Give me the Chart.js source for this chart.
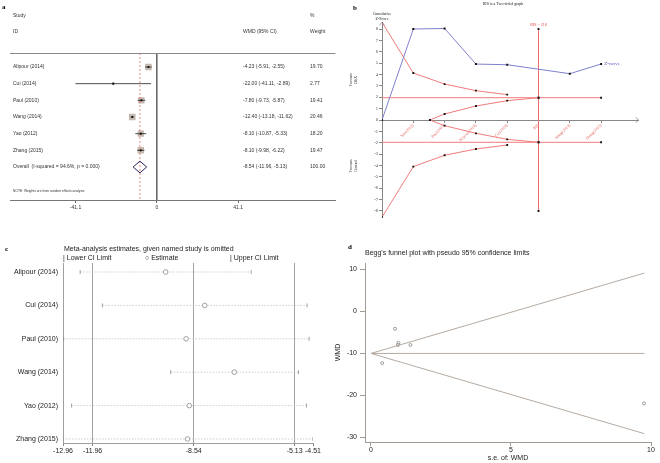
<!DOCTYPE html>
<html><head><meta charset="utf-8">
<script src="https://cdn.jsdelivr.net/npm/chart.js@4"></script>
<style>
html,body{margin:0;padding:0;background:#fff;}
#wrap{position:relative;width:660px;height:463px;overflow:hidden;background:#fff;}
canvas{position:absolute;}
</style></head><body>
<div id="wrap">
<canvas id="ca" width="340" height="235" style="left:0;top:0"></canvas>
<canvas id="cb" width="330" height="235" style="left:330px;top:0"></canvas>
<canvas id="cc" width="330" height="228" style="left:0;top:235px"></canvas>
<canvas id="cd" width="330" height="228" style="left:330px;top:235px"></canvas>
</div>
<script>
// ---------- DATA ----------
// Panel a: forest plot
const studies = ['Alipour (2014)','Cui (2014)','Paul (2010)','Wang (2014)','Yao (2012)','Zhang (2015)'];
const wmd     = [-4.23, -22.00, -7.80, -12.40, -8.10, -8.10];
const ciLow   = [-5.91, -41.11, -9.73, -13.18, -10.87, -9.98];
const ciHigh  = [-2.55, -2.89, -5.87, -11.62, -5.33, -6.22];
const weights = [19.70, 2.77, 19.41, 20.46, 18.20, 19.47];
const overallEst = -8.54, overallLow = -11.96, overallHigh = -5.13;
const overallLabel = 'Overall  (I-squared = 94.6%, p = 0.000)';
const forestTicks = [-41.1, 0, 41.1];

// Panel b: trial sequential analysis
const tsaLabels   = ['', 'Yao(2012)', 'Paul(2010)', 'Alipour(2014)', 'Cui(2014)', 'RIS', 'Wang(2014)', 'Zhang(2015)'];
const tsaXTicks   = [1, 2, 3, 4, 5, 6, 7];
const tsaYTicks   = [-8,-7,-6,-5,-4,-3,-2,-1,0,1,2,3,4,5,6,7,8];
const zInfo       = [0, 1, 2, 3, 4, 6, 7];
const zScore      = [0, 8.00, 8.05, 4.92, 4.86, 4.07, 4.92];
const boundInfo   = [0, 1, 2, 3, 4];
const upperBound  = [8.6, 4.13, 3.16, 2.58, 2.23];
const lowerBound  = [-8.55, -4.10, -3.10, -2.55, -2.20];
const futInfo     = [1.53, 2, 3, 4, 5];
const futUpper    = [0, 0.53, 1.23, 1.70, 1.96];
const futLower    = [0, -0.50, -1.17, -1.70, -1.96];
const convInfo    = [0, 5, 7];
const convZ       = 1.96;
const risInfo     = 5;
const risZ        = [-8, 8];
const risLabel    = 'RIS = 218';

// Panel c: leave-one-out
const looEst   = [-9.49, -8.17, -8.80, -7.17, -8.69, -8.75];
const looLow   = [-12.38, -11.63, -12.94, -9.32, -12.67, -12.96];
const looHigh  = [-6.60, -4.71, -4.64, -5.00, -4.73, -4.51];
const looTicks = [-12.96, -11.96, -8.54, -5.13, -4.51];
const looRefs  = [-11.96, -8.54, -5.13];

// Panel d: Begg's funnel
const beggSE       = [0.86, 9.75, 0.98, 0.40, 1.41, 0.96];
const beggWMD      = [-4.23, -22.00, -7.55, -12.40, -8.10, -8.10];
const funnelSE     = [0, 9.76];
const funnelUpper  = [-10.1, 9.03];
const funnelLower  = [-10.1, -29.2];
const funnelPooled = [-10.1, -10.1];
const beggXTicks   = [0, 5, 10];
const beggYTicks   = [-30, -20, -10, 0, 10];

// ---------- HELPERS ----------
const SANS = '"Liberation Sans", Arial, sans-serif';
const SERIF = '"Liberation Serif", "Times New Roman", serif';
Chart.defaults.font.family = SANS;
function txt(ctx, s, x, y, font, color, align, rot) {
  ctx.save();
  ctx.font = font; ctx.fillStyle = color; ctx.textAlign = align || 'left'; ctx.textBaseline = 'middle';
  ctx.translate(x, y);
  if (rot) ctx.rotate(rot);
  ctx.fillText(s, 0, 0);
  ctx.restore();
}
function seg(ctx, x1, y1, x2, y2, color, w) {
  ctx.save(); ctx.strokeStyle = color; ctx.lineWidth = w || 1;
  ctx.beginPath(); ctx.moveTo(x1, y1); ctx.lineTo(x2, y2); ctx.stroke(); ctx.restore();
}
const baseOpts = { responsive: false, animation: false, devicePixelRatio: 1,
  plugins: { legend: { display: false }, tooltip: { enabled: false } } };
function pts(xs, ys) { return xs.map((x, i) => ({ x: x, y: ys[i] })); }

// ---------- PANEL A ----------
(function () {
  const overallRow = studies.length;
  const yMin = -0.84, yMax = 7.98;
  const ds = [];
  ds.push({ data: studies.map((s, i) => ({ x: wmd[i], y: i })), pointStyle: 'rect',
    pointRadius: c => 4.6 * Math.sqrt(weights[c.dataIndex] / 20), pointBackgroundColor: '#c4b7ad',
    pointBorderWidth: 0, order: 5 });
  ds.push({ data: [{ x: overallEst, y: yMin }, { x: overallEst, y: yMax }], showLine: true, pointRadius: 0,
    borderColor: '#d86a6a', borderWidth: 0.8, borderDash: [2, 2], order: 4 });
  ds.push({ data: [{ x: 0, y: yMin }, { x: 0, y: yMax }], showLine: true, pointRadius: 0,
    borderColor: '#666', borderWidth: 0.9, order: 4 });
  studies.forEach((s, i) => ds.push({ data: [{ x: ciLow[i], y: i }, { x: ciHigh[i], y: i }], showLine: true,
    pointRadius: 0, borderColor: '#222', borderWidth: 0.8, order: 2 }));
  ds.push({ data: studies.map((s, i) => ({ x: wmd[i], y: i })), pointStyle: 'circle', pointRadius: 1.1,
    pointBackgroundColor: '#111', pointBorderWidth: 0, order: 1 });
  ds.push({ data: [{ x: overallLow, y: overallRow }, { x: overallEst, y: overallRow - 0.35 },
    { x: overallHigh, y: overallRow }, { x: overallEst, y: overallRow + 0.35 }, { x: overallLow, y: overallRow }],
    showLine: true, pointRadius: 0, borderColor: '#2c2456', borderWidth: 1, order: 1 });

  const textPlugin = { id: 'ftxt', afterDraw(chart) {
    const ctx = chart.ctx, ys = chart.scales.y, ca = chart.chartArea;
    const f = '5px ' + SANS, col = '#333';
    seg(ctx, ca.left, ca.top + 0.5, ca.right, ca.top + 0.5, '#888', 1);
    txt(ctx, 'a', 2, 7, 'bold 7px ' + SERIF, '#000');
    txt(ctx, 'Study', 13, 16, f, col); txt(ctx, 'ID', 13, 32, f, col);
    txt(ctx, 'WMD (95% CI)', 243, 32, f, col);
    txt(ctx, '%', 310, 16, f, col); txt(ctx, 'Weight', 310, 32, f, col);
    studies.forEach((s, i) => {
      const y = ys.getPixelForValue(i);
      txt(ctx, s, 13, y, f, col);
      txt(ctx, wmd[i].toFixed(2) + ' (' + ciLow[i].toFixed(2) + ', ' + ciHigh[i].toFixed(2) + ')', 243, y, f, col);
      txt(ctx, weights[i].toFixed(2), 310, y, f, col);
    });
    const yo = ys.getPixelForValue(overallRow);
    txt(ctx, overallLabel, 13, yo, f, col);
    txt(ctx, overallEst.toFixed(2) + ' (' + overallLow.toFixed(2) + ', ' + overallHigh.toFixed(2) + ')', 243, yo, f, col);
    txt(ctx, '100.00', 310, yo, f, col);
    txt(ctx, 'NOTE: Weights are from random effects analysis', 13, 191, '3.3px ' + SANS, col);
  } };

  new Chart(document.getElementById('ca'), {
    type: 'scatter', data: { datasets: ds },
    options: Object.assign({}, baseOpts, {
      layout: { padding: { left: 10, right: 2, top: 53, bottom: 0 } },
      scales: {
        x: { type: 'linear', min: -74.18, max: 90.22,
          afterBuildTicks: s => { s.ticks = forestTicks.map(v => ({ value: v })); },
          afterFit: s => { s.height = 35; },
          grid: { drawOnChartArea: false, drawTicks: true, tickLength: 3, color: '#666' },
          border: { display: true, color: '#777', width: 1 },
          ticks: { font: { size: 5, family: SANS }, color: '#333', padding: 2, maxRotation: 0, autoSkip: false,
            callback: v => String(v) } },
        y: { type: 'linear', display: false, min: yMin, max: yMax, reverse: true }
      }
    }),
    plugins: [textPlugin]
  });
})();

// ---------- PANEL B ----------
(function () {
  const red = '#f07c7c', blue = '#8080cf', mk = '#111';
  const ds = [
    { data: pts(zInfo, zScore), showLine: true, borderColor: blue, borderWidth: 1,
      pointStyle: 'rect', pointRadius: 1.4, pointBackgroundColor: mk, pointBorderWidth: 0 },
    { data: pts(boundInfo, upperBound), showLine: true, borderColor: red, borderWidth: 1,
      pointStyle: 'rect', pointRadius: 1.3, pointBackgroundColor: mk, pointBorderWidth: 0 },
    { data: pts(boundInfo, lowerBound), showLine: true, borderColor: red, borderWidth: 1,
      pointStyle: 'rect', pointRadius: 1.3, pointBackgroundColor: mk, pointBorderWidth: 0 },
    { data: pts(futInfo, futUpper), showLine: true, borderColor: red, borderWidth: 1,
      pointStyle: 'rect', pointRadius: 1.3, pointBackgroundColor: mk, pointBorderWidth: 0 },
    { data: pts(futInfo, futLower), showLine: true, borderColor: red, borderWidth: 1,
      pointStyle: 'rect', pointRadius: 1.3, pointBackgroundColor: mk, pointBorderWidth: 0 },
    { data: convInfo.map(x => ({ x: x, y: convZ })), showLine: true, borderColor: red, borderWidth: 1,
      pointStyle: 'rect', pointRadius: [0, 1.3, 1.3], pointBackgroundColor: mk, pointBorderWidth: 0 },
    { data: convInfo.map(x => ({ x: x, y: -convZ })), showLine: true, borderColor: red, borderWidth: 1,
      pointStyle: 'rect', pointRadius: [0, 1.3, 1.3], pointBackgroundColor: mk, pointBorderWidth: 0 },
    { data: risZ.map(z => ({ x: risInfo, y: z })), showLine: true, borderColor: '#f06a6a', borderWidth: 1,
      pointStyle: 'rect', pointRadius: 1.3, pointBackgroundColor: mk, pointBorderWidth: 0 }
  ];
  const textPlugin = { id: 'btxt', afterDraw(chart) {
    const ctx = chart.ctx, xs = chart.scales.x, ys = chart.scales.y, ca = chart.chartArea;
    const x0 = xs.getPixelForValue(0), y0 = ys.getPixelForValue(0);
    ctx.save(); ctx.strokeStyle = '#888'; ctx.lineWidth = 0.8;
    ctx.beginPath(); ctx.moveTo(ca.right - 3, y0 - 2.5); ctx.lineTo(ca.right, y0); ctx.lineTo(ca.right - 3, y0 + 2.5); ctx.stroke();
    ctx.beginPath(); ctx.moveTo(x0 - 2.5, ca.top + 3); ctx.lineTo(x0, ca.top); ctx.lineTo(x0 + 2.5, ca.top + 3); ctx.stroke();
    ctx.restore();
    txt(ctx, 'b', 23, 8, 'bold 7px ' + SERIF, '#000');
    txt(ctx, 'RIS is a Two-sided graph', 173, 4, '4px ' + SERIF, '#222', 'center');
    txt(ctx, 'Cumulative', 52, 14, '4px ' + SERIF, '#222', 'center');
    txt(ctx, 'Z-Score', 52, 19, '4px ' + SERIF, '#222', 'center');
    txt(ctx, 'Favours', 21, 80, '4px ' + SERIF, '#222', 'center', -Math.PI / 2);
    txt(ctx, 'DEX', 25.5, 80, '4px ' + SERIF, '#222', 'center', -Math.PI / 2);
    txt(ctx, 'Favours', 21, 166, '4px ' + SERIF, '#222', 'center', -Math.PI / 2);
    txt(ctx, 'Control', 25.5, 166, '4px ' + SERIF, '#222', 'center', -Math.PI / 2);
    txt(ctx, risLabel, xs.getPixelForValue(risInfo), ys.getPixelForValue(risZ[1]) - 4, '4px ' + SERIF, '#e04848', 'center');
    const last = zInfo.length - 1;
    txt(ctx, 'Z-curve', xs.getPixelForValue(zInfo[last]) + 3, ys.getPixelForValue(zScore[last]), '5px ' + SERIF, '#5a5ab8');
  } };
  new Chart(document.getElementById('cb'), {
    type: 'scatter', data: { datasets: ds },
    options: Object.assign({}, baseOpts, {
      layout: { padding: { left: 0, right: 21.3, top: 22.2, bottom: 17.2 } },
      scales: {
        x: { type: 'linear', min: 0, max: 8.2, position: { y: 0 },
          afterBuildTicks: s => { s.ticks = tsaXTicks.map(v => ({ value: v })); },
          grid: { drawOnChartArea: false, drawTicks: true, tickLength: 2, color: '#888' },
          border: { display: true, color: '#888', width: 1 },
          ticks: { font: { size: 4, family: SERIF }, color: '#e05a5a', padding: 1, autoSkip: false,
            minRotation: 45, maxRotation: 45, callback: v => tsaLabels[v] } },
        y: { type: 'linear', min: -8.6, max: 8.6,
          afterBuildTicks: s => { s.ticks = tsaYTicks.map(v => ({ value: v })); },
          afterFit: s => { s.width = 52; },
          grid: { drawOnChartArea: false, drawTicks: true, tickLength: 3, color: '#888' },
          border: { display: true, color: '#888', width: 1 },
          ticks: { font: { size: 4.5, family: SERIF }, color: '#444', padding: 1, autoSkip: false,
            callback: v => String(v) } }
      }
    }),
    plugins: [textPlugin]
  });
})();

// ---------- PANEL C ----------
(function () {
  const ds = studies.map((s, i) => ({
    data: [{ x: looLow[i], y: i }, { x: looEst[i], y: i }, { x: looHigh[i], y: i }],
    showLine: true, borderColor: '#c2c2c2', borderWidth: 0.8, borderDash: [1.5, 1.5],
    pointStyle: ['line', 'circle', 'line'], pointRotation: [90, 0, 90], pointRadius: [2, 2.3, 2],
    pointBorderColor: '#8a8a8a', pointBackgroundColor: '#fff', pointBorderWidth: 0.8 }));
  const textPlugin = { id: 'ctxt', afterDraw(chart) {
    const ctx = chart.ctx;
    const f = '7px ' + SANS;
    txt(ctx, 'c', 5, 14, 'bold 7px ' + SERIF, '#000');
    txt(ctx, 'Meta-analysis estimates, given named study is omitted', 64, 14, f, '#222');
    txt(ctx, '| Lower CI Limit', 63, 23, f, '#222');
    txt(ctx, '\u25CB Estimate', 145, 23, f, '#222');
    txt(ctx, '| Upper CI Limit', 230, 23, f, '#222');
  } };
  new Chart(document.getElementById('cc'), {
    type: 'scatter', data: { datasets: ds },
    options: Object.assign({}, baseOpts, {
      layout: { padding: { left: 0, right: 17, top: 28, bottom: 0 } },
      scales: {
        x: { type: 'linear', min: -12.96, max: -4.51,
          afterBuildTicks: s => { s.ticks = looTicks.map(v => ({ value: v })); },
          afterFit: s => { s.height = 20; },
          grid: { drawOnChartArea: true, drawTicks: true, tickLength: 3,
            color: c => (c.tick && looRefs.includes(c.tick.value)) ? '#a3a3a3' : 'rgba(0,0,0,0)',
            tickColor: '#888' },
          border: { display: true, color: '#a0a0a0', width: 1 },
          ticks: { font: { size: 7, family: SANS }, color: '#222', padding: 1, autoSkip: false, maxRotation: 0,
            callback: v => v.toFixed(2) } },
        y: { type: 'linear', min: -0.27, max: 5.12, reverse: true,
          afterBuildTicks: s => { s.ticks = studies.map((n, i) => ({ value: i })); },
          afterFit: s => { s.width = 63; },
          grid: { drawOnChartArea: false, drawTicks: false },
          border: { display: true, color: '#a0a0a0', width: 1 },
          ticks: { font: { size: 7, family: SANS }, color: '#222', padding: 5, autoSkip: false,
            callback: v => studies[v] } }
      }
    }),
    plugins: [textPlugin]
  });
})();

// ---------- PANEL D ----------
(function () {
  const lc = '#b3aaa2';
  const ds = [
    { data: pts(funnelSE, funnelUpper), showLine: true, borderColor: lc, borderWidth: 1, pointRadius: 0 },
    { data: pts(funnelSE, funnelLower), showLine: true, borderColor: lc, borderWidth: 1, pointRadius: 0 },
    { data: pts(funnelSE, funnelPooled), showLine: true, borderColor: lc, borderWidth: 1, pointRadius: 0 },
    { data: pts(beggSE, beggWMD), pointStyle: 'circle', pointRadius: 1.5, pointBorderColor: '#8d857e',
      pointBackgroundColor: 'rgba(0,0,0,0)', pointBorderWidth: 0.8 }
  ];
  const textPlugin = { id: 'dtxt', afterDraw(chart) {
    const ctx = chart.ctx, ca = chart.chartArea;
    txt(ctx, 'd', 18, 12, 'bold 7px ' + SERIF, '#000');
    txt(ctx, "Begg's funnel plot with pseudo 95% confidence limits", 35, 18, '7px ' + SANS, '#222');
    txt(ctx, 'WMD', 8, (ca.top + ca.bottom) / 2, '7px ' + SANS, '#222', 'center', -Math.PI / 2);
    txt(ctx, 's.e. of: WMD', (ca.left + ca.right) / 2, 223, '7px ' + SANS, '#222', 'center');
  } };
  new Chart(document.getElementById('cd'), {
    type: 'scatter', data: { datasets: ds },
    options: Object.assign({}, baseOpts, {
      layout: { padding: { left: 0, right: 9, top: 28, bottom: 0 } },
      scales: {
        x: { type: 'linear', min: -0.214, max: 10,
          afterBuildTicks: s => { s.ticks = beggXTicks.map(v => ({ value: v })); },
          afterFit: s => { s.height = 21; },
          grid: { drawOnChartArea: false, drawTicks: true, tickLength: 4, color: '#a39a92' },
          border: { display: true, color: '#a39a92', width: 1 },
          ticks: { font: { size: 7, family: SANS }, color: '#222', padding: 0, autoSkip: false, maxRotation: 0,
            callback: v => String(v) } },
        y: { type: 'linear', min: -31.19, max: 11.43,
          afterBuildTicks: s => { s.ticks = beggYTicks.map(v => ({ value: v })); },
          afterFit: s => { s.width = 35; },
          grid: { drawOnChartArea: false, drawTicks: true, tickLength: 5, color: '#a39a92' },
          border: { display: true, color: '#a39a92', width: 1 },
          ticks: { font: { size: 7, family: SANS }, color: '#222', padding: 3, autoSkip: false,
            callback: v => String(v) } }
      }
    }),
    plugins: [textPlugin]
  });
})();
</script>
</body></html>
